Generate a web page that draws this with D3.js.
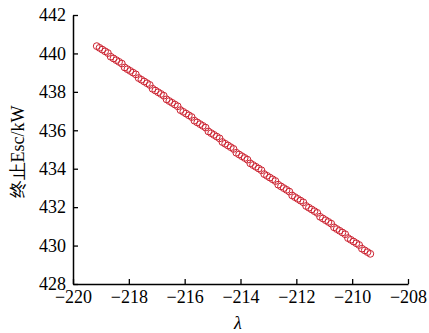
<!DOCTYPE html>
<html><head><meta charset="utf-8">
<script src="https://cdn.jsdelivr.net/npm/d3@7"></script>
<style>body{margin:0;background:#fff;} svg{display:block;} text{font-family:'Liberation Serif','Times New Roman',serif;}</style>
</head><body>
<svg id="c" width="429" height="333"></svg>
<script>
const lambdaVals = [
-219.15,-219.05,-218.95,-218.85,-218.75,
-218.65,-218.55,-218.45,-218.35,-218.25,
-218.15,-218.05,-217.95,-217.85,-217.75,
-217.65,-217.55,-217.45,-217.35,-217.25,
-217.15,-217.05,-216.95,-216.85,-216.75,
-216.65,-216.55,-216.45,-216.35,-216.25,
-216.15,-216.05,-215.95,-215.85,-215.75,
-215.65,-215.55,-215.45,-215.35,-215.25,
-215.15,-215.05,-214.95,-214.85,-214.75,
-214.65,-214.55,-214.45,-214.35,-214.25,
-214.15,-214.05,-213.95,-213.85,-213.75,
-213.65,-213.55,-213.45,-213.35,-213.25,
-213.15,-213.05,-212.95,-212.85,-212.75,
-212.65,-212.55,-212.45,-212.35,-212.25,
-212.15,-212.05,-211.95,-211.85,-211.75,
-211.65,-211.55,-211.45,-211.35,-211.25,
-211.15,-211.05,-210.95,-210.85,-210.75,
-210.65,-210.55,-210.45,-210.35,-210.25,
-210.15,-210.05,-209.95,-209.85,-209.75,
-209.65,-209.55,-209.45,-209.35
];
const escVals = [
440.38,440.29,440.20,440.11,440.02,
439.83,439.74,439.65,439.56,439.47,
439.27,439.18,439.09,439.00,438.91,
438.72,438.63,438.54,438.45,438.36,
438.16,438.07,437.98,437.89,437.80,
437.61,437.52,437.43,437.34,437.25,
437.05,436.96,436.87,436.78,436.69,
436.50,436.41,436.32,436.23,436.14,
435.94,435.85,435.76,435.67,435.58,
435.39,435.30,435.21,435.12,435.03,
434.83,434.74,434.65,434.56,434.47,
434.28,434.19,434.10,434.01,433.92,
433.72,433.63,433.54,433.45,433.36,
433.17,433.08,432.99,432.90,432.81,
432.61,432.52,432.43,432.34,432.25,
432.06,431.97,431.88,431.79,431.70,
431.50,431.41,431.32,431.23,431.14,
430.95,430.86,430.77,430.68,430.59,
430.39,430.30,430.21,430.12,430.03,
429.84,429.75,429.66,429.57
];
const xTicks = [-220,-218,-216,-214,-212,-210,-208];
const yTicks = [428,430,432,434,436,438,440,442];

const svg = d3.select("#c");
const x = d3.scaleLinear().domain([-220,-208]).range([73,408]);
const y = d3.scaleLinear().domain([428,442]).range([284,15]);
const font = "'Liberation Serif','Times New Roman',serif";

const xa = svg.append("g").attr("transform","translate(0,284)")
  .call(d3.axisBottom(x).tickValues(xTicks).tickSizeInner(-5).tickSizeOuter(0).tickPadding(5).tickFormat(d3.format("d")));
const ya = svg.append("g").attr("transform","translate(73,0)")
  .call(d3.axisLeft(y).tickValues(yTicks).tickSizeInner(-5).tickSizeOuter(0).tickPadding(7).tickFormat(d3.format("d")));
[xa,ya].forEach(a=>{
  a.attr("font-family",font).attr("font-size",18);
  a.select(".domain").attr("stroke","#000").attr("stroke-width",1.5);
  a.selectAll(".tick line").attr("stroke","#000").attr("stroke-width",1.3);
  a.selectAll(".tick text").attr("fill","#000").style("font-family",font).style("font-size","18px");
});
xa.selectAll(".tick text").attr("dy","0.8em");

const data = lambdaVals.map((v,i)=>({x:v,y:escVals[i]}));
svg.append("g").selectAll("circle").data(data).join("circle")
  .attr("cx",d=>x(d.x)).attr("cy",d=>y(d.y)).attr("r",3.4)
  .attr("fill","none").attr("stroke","#cc2230").attr("stroke-width",1);

svg.append("text").attr("x",238).attr("y",329).attr("text-anchor","middle")
  .style("font-family",font).style("font-size","18px").style("font-style","italic").text("λ");
svg.append("text").attr("transform","translate(24,152) rotate(-90)").attr("text-anchor","middle")
  .style("font-family",font).style("font-size","18px").text("终止Esc/kW");
</script>
</body></html>
